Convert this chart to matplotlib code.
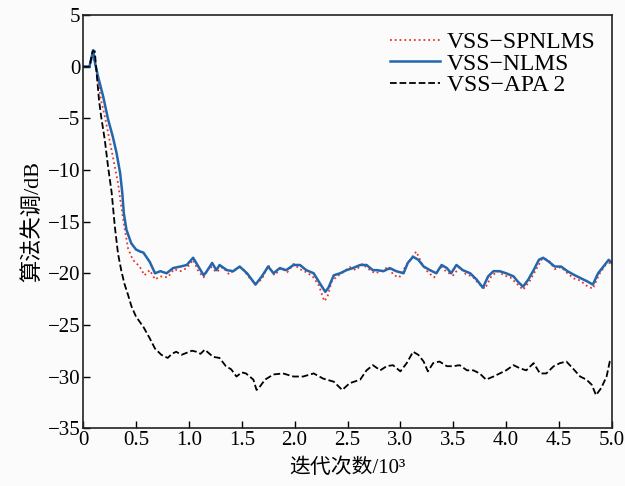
import matplotlib
matplotlib.use('Agg')
import matplotlib.pyplot as plt

plt.rcParams['font.family'] = ['Liberation Serif', 'Noto Sans CJK SC']
plt.rcParams['axes.unicode_minus'] = True

# iterations (x 10^3) and misadjustment (dB)
x_nlms = [0, 0.06, 0.095, 0.11, 0.14, 0.19, 0.236, 0.28, 0.315, 0.35, 0.37, 0.385, 0.41,
          0.455, 0.50, 0.54, 0.57, 0.63, 0.68, 0.73, 0.79, 0.85, 0.92, 0.98, 1.04, 1.09,
          1.14, 1.17, 1.22, 1.26, 1.29, 1.36, 1.42, 1.48, 1.55, 1.63, 1.69, 1.75, 1.80,
          1.86, 1.92, 1.99, 2.05, 2.11, 2.18, 2.24, 2.29, 2.32, 2.37, 2.43, 2.49, 2.55,
          2.62, 2.68, 2.74, 2.78, 2.84, 2.90, 2.96, 3.03, 3.07, 3.12, 3.17, 3.22, 3.28,
          3.34, 3.39, 3.44, 3.48, 3.53, 3.59, 3.66, 3.72, 3.78, 3.83, 3.88, 3.94, 4.00,
          4.07, 4.11, 4.16, 4.21, 4.26, 4.31, 4.35, 4.40, 4.46, 4.52, 4.58, 4.65, 4.71,
          4.77, 4.82, 4.87, 4.92, 4.97, 5.0]
y_nlms = [0, 0, 1.6, 0.5, -0.9, -2.9, -5.1, -6.75, -8.3, -10.3, -12.2, -14.2, -15.8,
          -17.1, -17.7, -17.9, -18.0, -18.9, -20.0, -19.8, -20.0, -19.5, -19.35, -19.2,
          -18.5, -19.35, -20.2, -19.8, -19.0, -19.7, -19.2, -19.7, -19.8, -19.35, -20.0,
          -21.1, -20.3, -19.35, -20.0, -19.5, -19.7, -19.2, -19.2, -19.7, -20.0, -21.0,
          -21.8, -21.4, -20.2, -20.0, -19.7, -19.5, -19.2, -19.2, -19.7, -19.7, -19.8,
          -19.5, -19.8, -20.0, -19.0, -18.4, -18.7, -19.35, -19.7, -20.0, -19.2, -19.5,
          -20.0, -19.2, -19.7, -20.0, -20.6, -21.4, -20.3, -19.8, -19.8, -20.0, -20.3,
          -20.8, -21.3, -20.6, -19.7, -18.7, -18.5, -18.85, -19.35, -19.35, -19.8, -20.2,
          -20.5, -20.8, -21.1, -20.0, -19.35, -18.7, -19.0]

x_spnlms = [0, 0.06, 0.09, 0.126, 0.173, 0.205, 0.25, 0.30, 0.33, 0.36, 0.39, 0.425, 0.47,
            0.535, 0.58, 0.63, 0.68, 0.73, 0.80, 0.86, 0.92, 0.98, 1.04, 1.09, 1.14, 1.20,
            1.26, 1.32, 1.38, 1.44, 1.50, 1.56, 1.63, 1.69, 1.75, 1.81, 1.87, 1.93, 1.99,
            2.05, 2.11, 2.17, 2.23, 2.28, 2.31, 2.35, 2.40, 2.46, 2.52, 2.58, 2.64, 2.70,
            2.76, 2.82, 2.88, 2.94, 2.99, 3.05, 3.10, 3.15, 3.20, 3.26, 3.32, 3.38, 3.44,
            3.50, 3.56, 3.62, 3.68, 3.74, 3.80, 3.86, 3.92, 3.98, 4.04, 4.10, 4.16, 4.22,
            4.28, 4.34, 4.40, 4.46, 4.52, 4.58, 4.64, 4.70, 4.76, 4.82, 4.88, 4.94, 5.0]
y_spnlms = [0, 0, 1.2, -0.45, -3.4, -4.8, -7.1, -9.7, -11.3, -13.5, -15.5, -17.6, -18.7,
            -19.35, -20.2, -19.7, -20.6, -20.3, -20.4, -19.6, -19.8, -19.5, -18.7, -19.8,
            -20.4, -19.3, -19.9, -19.4, -20.1, -19.6, -19.4, -20.3, -21.0, -20.6, -19.2,
            -20.2, -19.5, -19.9, -19.1, -19.6, -19.9, -20.3, -21.2, -22.7, -22.3, -20.8,
            -20.3, -19.9, -19.4, -19.7, -19.1, -19.6, -20.0, -19.8, -19.4, -20.2, -20.4,
            -19.3, -18.6, -17.9, -19.0, -19.9, -20.4, -19.3, -19.9, -20.2, -19.4, -20.1,
            -20.3, -21.0, -21.5, -20.3, -19.8, -20.2, -20.4, -21.0, -21.6, -20.8, -19.7,
            -18.6, -18.7, -19.6, -19.4, -20.0, -20.5, -20.7, -21.2, -21.5, -20.1, -19.2,
            -18.9]

x_apa = [0, 0.06, 0.09, 0.11, 0.13, 0.15, 0.17, 0.205, 0.236, 0.27, 0.30, 0.33, 0.36, 0.39,
         0.425, 0.457, 0.50, 0.57, 0.63, 0.68, 0.74, 0.80, 0.84, 0.88, 0.93, 0.98, 1.03,
         1.07, 1.11, 1.15, 1.23, 1.29, 1.35, 1.40, 1.45, 1.50, 1.54, 1.61, 1.64, 1.67,
         1.72, 1.80, 1.89, 1.99, 2.08, 2.18, 2.27, 2.37, 2.45, 2.52, 2.62, 2.68, 2.74,
         2.81, 2.87, 2.93, 3.00, 3.06, 3.12, 3.17, 3.22, 3.26, 3.31, 3.37, 3.44, 3.50,
         3.56, 3.63, 3.69, 3.75, 3.81, 3.88, 3.94, 4.00, 4.07, 4.13, 4.19, 4.26, 4.32,
         4.38, 4.45, 4.51, 4.57, 4.63, 4.70, 4.76, 4.81, 4.85, 4.90, 4.95, 4.98, 5.0]
y_apa = [0, 0, 1.5, 1.5, -0.9, -3.2, -4.8, -7.1, -9.7, -12.2, -15.5, -18.1, -19.7, -21.0,
         -22.1, -23.2, -24.2, -25.2, -26.3, -27.3, -27.9, -28.2, -27.8, -27.6, -27.9, -27.7,
         -27.5, -27.6, -27.8, -27.4, -28.1, -28.2, -29.0, -29.3, -30.0, -29.6, -29.7, -30.3,
         -31.3, -31.0, -30.3, -29.8, -29.7, -30.0, -30.0, -29.7, -30.2, -30.5, -31.3, -30.65,
         -30.3, -29.4, -28.9, -29.4, -29.0, -28.9, -29.5, -28.7, -27.6, -27.9, -28.55, -29.5,
         -28.7, -28.55, -29.0, -29.0, -28.9, -29.4, -29.4, -29.7, -30.3, -30.0, -29.7, -29.4,
         -28.9, -29.2, -29.4, -28.7, -29.7, -29.7, -29.0, -28.7, -28.55, -29.2, -30.0, -30.3,
         -30.8, -31.8, -31.1, -30.0, -28.55, -28.3]

xticks = [0, 0.5, 1.0, 1.5, 2.0, 2.5, 3.0, 3.5, 4.0, 4.5, 5.0]
xticklabels = ['0', '0.5', '1.0', '1.5', '2.0', '2.5', '3.0', '3.5', '4.0', '4.5', '5.0']
yticks = [-35, -30, -25, -20, -15, -10, -5, 0, 5]

fig = plt.figure(figsize=(6.25, 4.86), dpi=100, facecolor='#fbfbfb')
ax = fig.add_axes([0.133, 0.119, 0.846, 0.85])
ax.set_facecolor('#fbfbfb')

ax.plot(x_spnlms, y_spnlms, ':', color='#e8342c', lw=1.3, label='VSS\u2212SPNLMS')
ax.plot(x_nlms, y_nlms, '-', color='#2366ad', lw=1.8, label='VSS\u2212NLMS')
ax.plot(x_apa, y_apa, '--', color='black', lw=1.3, label='VSS\u2212APA 2')

ax.set_xlim(0, 5.0)
ax.set_ylim(-35, 5)
ax.set_xticks(xticks)
ax.set_xticklabels(xticklabels)
ax.set_yticks(yticks)
ax.tick_params(direction='in', length=5, width=1, labelsize=15, pad=2)
for s in ax.spines.values():
    s.set_linewidth(1.2)
    s.set_color('#222222')

ax.set_xlabel('迭代次数/10³', fontsize=15, labelpad=6)
ax.set_ylabel('算法失调/dB', fontsize=16, labelpad=3)

leg = ax.legend(loc='upper right', frameon=False, fontsize=17, handlelength=2.1,
                handletextpad=0.3, labelspacing=0.0, borderaxespad=0.3)

fig.savefig('out.png', dpi=100, facecolor=fig.get_facecolor())
